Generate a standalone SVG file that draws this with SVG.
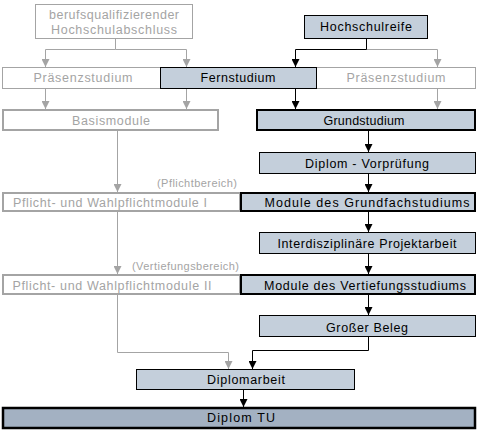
<svg xmlns="http://www.w3.org/2000/svg" width="478" height="433" viewBox="0 0 478 433">
<defs>
<style>
text{font-family:"Liberation Sans",Arial,sans-serif;font-size:12.5px;text-anchor:middle}
.g{fill:#a4a4a4}
.b{fill:#000}
.sm{font-size:11px;text-anchor:end}
.boxw{fill:#fff;stroke:#a4a4a4;stroke-width:1}
.boxw2{fill:#fff;stroke:#a4a4a4;stroke-width:2}
.boxf{fill:#c4cfdb;stroke:#000;stroke-width:1}
.boxf2{fill:#c4cfdb;stroke:#000;stroke-width:2}
.boxd{fill:#a3b1c2;stroke:#000;stroke-width:2.5}
.cg{fill:none;stroke:#a4a4a4;stroke-width:1;marker-end:url(#ag)}
.cb{fill:none;stroke:#000;stroke-width:1;marker-end:url(#ab)}
</style>
<marker id="ag" viewBox="0 0 8 8" refX="8" refY="4" markerWidth="8" markerHeight="8" markerUnits="userSpaceOnUse" orient="auto">
<path d="M0,0 L8,4 L0,8 Z" fill="#a4a4a4"/>
</marker>
<marker id="ab" viewBox="0 0 8 8" refX="8" refY="4" markerWidth="8" markerHeight="8" markerUnits="userSpaceOnUse" orient="auto">
<path d="M0,0 L8,4 L0,8 Z" fill="#000"/>
</marker>
</defs>

<g id="connectors">
<path class="cg" d="M115.5,39 V49.5 H45.5 V67"/>
<path class="cg" d="M115.5,49.5 H186.5 V67"/>
<path class="cg" d="M366.5,49.5 H437.5 V67"/>
<path class="cb" d="M366.5,39 V49.5 H295.5 V67"/>
<path class="cg" d="M45.5,88 V109"/>
<path class="cg" d="M186.5,88 V109"/>
<path class="cg" d="M437.5,88 V109"/>
<path class="cb" d="M295.5,88 V109"/>
<path class="cg" d="M117.5,131 V192"/>
<path class="cg" d="M117.5,212 V274"/>
<path class="cg" d="M117.5,295 V352.5 H228.5 V369"/>
<path class="cb" d="M368.5,131 V152"/>
<path class="cb" d="M368.5,173 V192"/>
<path class="cb" d="M368.5,212 V232"/>
<path class="cb" d="M368.5,253 V274"/>
<path class="cb" d="M368.5,295 V315"/>
<path class="cb" d="M368.5,336 V350.5 H252.5 V369"/>
<path class="cb" d="M243.5,390 V407"/>
</g>

<g id="n-berufsqualifizierender">
<rect class="boxw" x="35.5" y="4.5" width="157" height="34"/>
<text class="g" x="114" y="19" textLength="130" lengthAdjust="spacing">berufsqualifizierender</text>
<text class="g" x="114" y="34" textLength="126" lengthAdjust="spacing">Hochschulabschluss</text>
</g>
<g id="n-hochschulreife">
<rect class="boxf" x="304.5" y="15.5" width="123" height="23"/>
<text class="b" x="366" y="31" textLength="92" lengthAdjust="spacing">Hochschulreife</text>
</g>
<g id="n-praesenz-l">
<rect class="boxw" x="2.5" y="67.5" width="158" height="21"/>
<text class="g" x="83" y="82" textLength="99" lengthAdjust="spacing">Präsenzstudium</text>
</g>
<g id="n-praesenz-r">
<rect class="boxw" x="316.5" y="67.5" width="159" height="21"/>
<text class="g" x="396" y="82" textLength="99" lengthAdjust="spacing">Präsenzstudium</text>
</g>
<g id="n-fernstudium">
<rect class="boxf" x="160.5" y="67.5" width="156" height="21"/>
<text class="b" x="238" y="82" textLength="75" lengthAdjust="spacing">Fernstudium</text>
</g>
<g id="n-basismodule">
<rect class="boxw2" x="3" y="110" width="215" height="20"/>
<text class="g" x="111" y="125" textLength="78" lengthAdjust="spacing">Basismodule</text>
</g>
<g id="n-grundstudium">
<rect class="boxf2" x="257" y="110" width="218" height="20"/>
<text class="b" x="364" y="125" textLength="81" lengthAdjust="spacing">Grundstudium</text>
</g>
<g id="n-vorpruefung">
<rect class="boxf" x="259.5" y="152.5" width="216" height="21"/>
<text class="b" x="367" y="168" textLength="124" lengthAdjust="spacing">Diplom - Vorprüfung</text>
</g>
<g id="n-pflicht1">
<rect class="boxw2" x="3" y="193" width="237" height="18"/>
<text class="g" x="110" y="207" textLength="194" lengthAdjust="spacing">Pflicht- und Wahlpflichtmodule I</text>
<text class="g sm" x="237" y="187" textLength="80" lengthAdjust="spacing">(Pflichtbereich)</text>
</g>
<g id="n-grundfach">
<rect class="boxf2" x="241" y="193" width="234" height="18"/>
<text class="b" x="367" y="207" textLength="205" lengthAdjust="spacing">Module des Grundfachstudiums</text>
</g>
<g id="n-projektarbeit">
<rect class="boxf" x="259.5" y="232.5" width="216" height="21"/>
<text class="b" x="367" y="248" textLength="179" lengthAdjust="spacing">Interdisziplinäre Projektarbeit</text>
</g>
<g id="n-pflicht2">
<rect class="boxw2" x="3" y="275" width="237" height="19"/>
<text class="g" x="112" y="290" textLength="199" lengthAdjust="spacing">Pflicht- und Wahlpflichtmodule II</text>
<text class="g sm" x="239" y="270" textLength="107" lengthAdjust="spacing">(Vertiefungsbereich)</text>
</g>
<g id="n-vertiefung">
<rect class="boxf2" x="241" y="275" width="234" height="19"/>
<text class="b" x="365" y="290" textLength="202" lengthAdjust="spacing">Module des Vertiefungsstudiums</text>
</g>
<g id="n-beleg">
<rect class="boxf" x="259.5" y="315.5" width="216" height="21"/>
<text class="b" x="367" y="332" textLength="82" lengthAdjust="spacing">Großer Beleg</text>
</g>
<g id="n-diplomarbeit">
<rect class="boxf" x="136.5" y="369.5" width="218" height="20"/>
<text class="b" x="246" y="384" textLength="78" lengthAdjust="spacing">Diplomarbeit</text>
</g>
<g id="n-diplomtu">
<rect class="boxd" x="3" y="408" width="472" height="20"/>
<text class="b" x="241" y="422" textLength="68" lengthAdjust="spacing">Diplom TU</text>
</g>
</svg>
